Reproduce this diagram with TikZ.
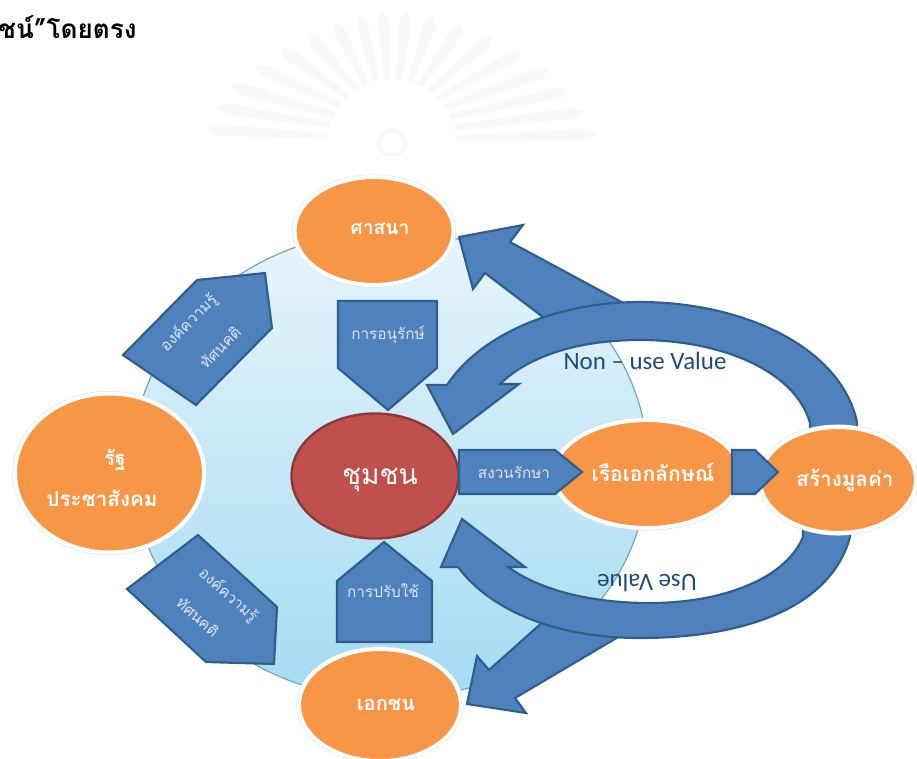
\documentclass[tikz,border=0pt]{standalone}
\usepackage{fontspec}
\usetikzlibrary{shapes.geometric}
\newfontfamily\thaifont[Script=Thai]{Loma}
\newfontfamily\latinfont{Carlito}
\definecolor{orangefill}{HTML}{F79646}
\definecolor{redfill}{HTML}{C0504D}
\definecolor{redline}{HTML}{8C3A38}
\definecolor{bluefill}{HTML}{4F81BD}
\definecolor{blueline}{HTML}{2F5D8C}
\definecolor{paletext}{HTML}{DCE6F2}
\definecolor{labelblue}{HTML}{1F497D}
\definecolor{rayc}{HTML}{F9F9F9}
\tikzset{
  oval/.style={ellipse,fill=orangefill,draw=white,line width=3pt,inner sep=0pt,
    preaction={draw=black!12,line width=3.8pt}},
  block/.style={fill=bluefill,draw=blueline,line width=1.6pt,line join=miter},
  ovaltext/.style={text=white,inner sep=0pt},
  blocktext/.style={text=paletext,font=\thaifont\fontsize{11.5}{13}\selectfont,inner sep=0pt},
  valtext/.style={text=labelblue,font=\latinfont\fontsize{18.7}{20}\selectfont,inner sep=0pt}
}
\begin{document}
\begin{tikzpicture}[x=0.75pt,y=-0.75pt]
\useasboundingbox (0,0) rectangle (917,758);
% faint watermark
\begin{scope}
\clip (180,0) rectangle (640,155);
\foreach \a/\rx in {4/206,14/200,24/195,34/190,44/180,54/170,64/160,74/150,84/140,94/135,104/135,114/140,124/150,134/160,144/170,154/180,164/185,174/187}{
  \fill[rayc] ({392+64*cos(\a-2.5)},{143-64*sin(\a-2.5)}) -- ({392+64*cos(\a+2.5)},{143-64*sin(\a+2.5)})
     -- ({392+\rx*0.93*cos(\a+2.6)},{143-133*0.93*sin(\a+2.6)}) -- ({392+\rx*cos(\a)},{143-133*sin(\a)})
     -- ({392+\rx*0.93*cos(\a-2.6)},{143-133*0.93*sin(\a-2.6)}) -- cycle;
}
\draw[rayc,line width=3pt] (392,143) circle [radius=13];
\end{scope}
% big circle
\shadedraw[top color={rgb,255:red,232;green,245;blue,252},bottom color={rgb,255:red,164;green,219;blue,242},draw={rgb,255:red,110;green,170;blue,180},line width=0.9pt]
  (390,465) ellipse [x radius=258,y radius=234];
% straight block arrows to the outer ovals
\path[block] (459,237) -- (523,225) -- (510,242) -- (640,312) -- (560,330) -- (485,273) -- (473,289) -- cycle;
\path[block] (467,704) -- (526,713) -- (515,698) -- (630,630) -- (545,620) -- (489,670) -- (477,656) -- cycle;
% curved block arrows
\path[block] (427,385) -- (453,434) -- (519,384) -- (500,384)
  .. controls (530,355) and (580,340) .. (640,340)
  .. controls (720,340) and (795,370) .. (810,423) -- (810,445) -- (857,445) -- (857,422)
  .. controls (840,345) and (740,302) .. (640,302)
  .. controls (555,302) and (480,335) .. (447,385) -- cycle;
\path[block] (462,519) -- (525,567) -- (508,567)
  .. controls (540,590) and (590,603) .. (650,603)
  .. controls (720,603) and (785,580) .. (803,537) -- (803,515) -- (850,515) -- (850,537)
  .. controls (830,610) and (740,638) .. (640,638)
  .. controls (555,638) and (490,610) .. (458,567) -- (441,567) -- cycle;
% ovals
\node[oval,minimum width=159pt*0.75,minimum height=108pt*0.75] (sasana) at (374,231) {};
\node[oval,minimum width=189pt*0.75,minimum height=159pt*0.75] (rat) at (109.5,473) {};
\node[oval,minimum width=186pt*0.75,minimum height=108pt*0.75] (ruea) at (647,474) {};
\node[oval,minimum width=156pt*0.75,minimum height=106pt*0.75] (value) at (838,480) {};
\node[oval,minimum width=162pt*0.75,minimum height=112pt*0.75] (ekachon) at (380,705) {};
\node[ellipse,fill=redfill,draw=redline,line width=1.8pt,inner sep=0pt,minimum width=167pt*0.75,minimum height=125pt*0.75] (chumchon) at (375,476) {};
% pentagon arrows
\path[block] (338,301) -- (437,301) -- (437,368) -- (388,410) -- (338,368) -- cycle;
\path[block] (197,280) -- (265,273) -- (272,328) -- (196,405) -- (123,355) -- cycle;
\path[block] (198,535) -- (277,607) -- (274,664) -- (206,662) -- (127,589) -- cycle;
\path[block] (384,542) -- (432,581) -- (432,642) -- (337,642) -- (337,581) -- cycle;
\path[block] (459,450) -- (555,450) -- (582,472) -- (555,494) -- (459,494) -- cycle;
\path[block] (732,450) -- (755,450) -- (778,472) -- (755,494) -- (732,494) -- cycle;
% texts
\node[inner sep=0pt,anchor=west,font=\thaifont\bfseries\fontsize{19.6}{22}\selectfont] (title) at (-2,27) {ชน์”โดยตรง};
\node[ovaltext,font=\thaifont\bfseries\fontsize{14.5}{16}\selectfont] (t1) at (380,229) {ศาสนา};
\node[ovaltext,font=\thaifont\bfseries\fontsize{15}{16}\selectfont] (t2) at (115,460) {รัฐ};
\node[ovaltext,font=\thaifont\bfseries\fontsize{15.5}{16}\selectfont] (t3) at (102,498) {ประชาสังคม};
\node[ovaltext,font=\thaifont\fontsize{21}{24}\selectfont] (t4) at (380,480) {ชุมชน};
\node[ovaltext,font=\thaifont\bfseries\fontsize{15.8}{16}\selectfont] (t5) at (653,472) {เรือเอกลักษณ์};
\node[ovaltext,font=\thaifont\bfseries\fontsize{15.5}{16}\selectfont] (t6) at (845,480) {สร้างมูลค่า};
\node[ovaltext,font=\thaifont\bfseries\fontsize{15}{16}\selectfont] (t7) at (386,705) {เอกชน};
\node[blocktext] (b1) at (388,335) {การอนุรักษ์};
\node[blocktext] (b2) at (514,472) {สงวนรักษา};
\node[blocktext] (b3) at (383,591) {การปรับใช้};
\node[blocktext,rotate=45] (b4) at (189,323) {องค์ความรู้};
\node[blocktext,rotate=45] (b5) at (220,347) {ทัศนคติ};
\node[blocktext,rotate=-42] (b6) at (228,595) {องค์ความรู้};
\node[blocktext,rotate=-42] (b7) at (198,617) {ทัศนคติ};
\node[valtext] (nonuse) at (645,361) {Non – use Value};
\node[valtext,rotate=180] (use) at (647,583) {Use Value};
\end{tikzpicture}
\end{document}
